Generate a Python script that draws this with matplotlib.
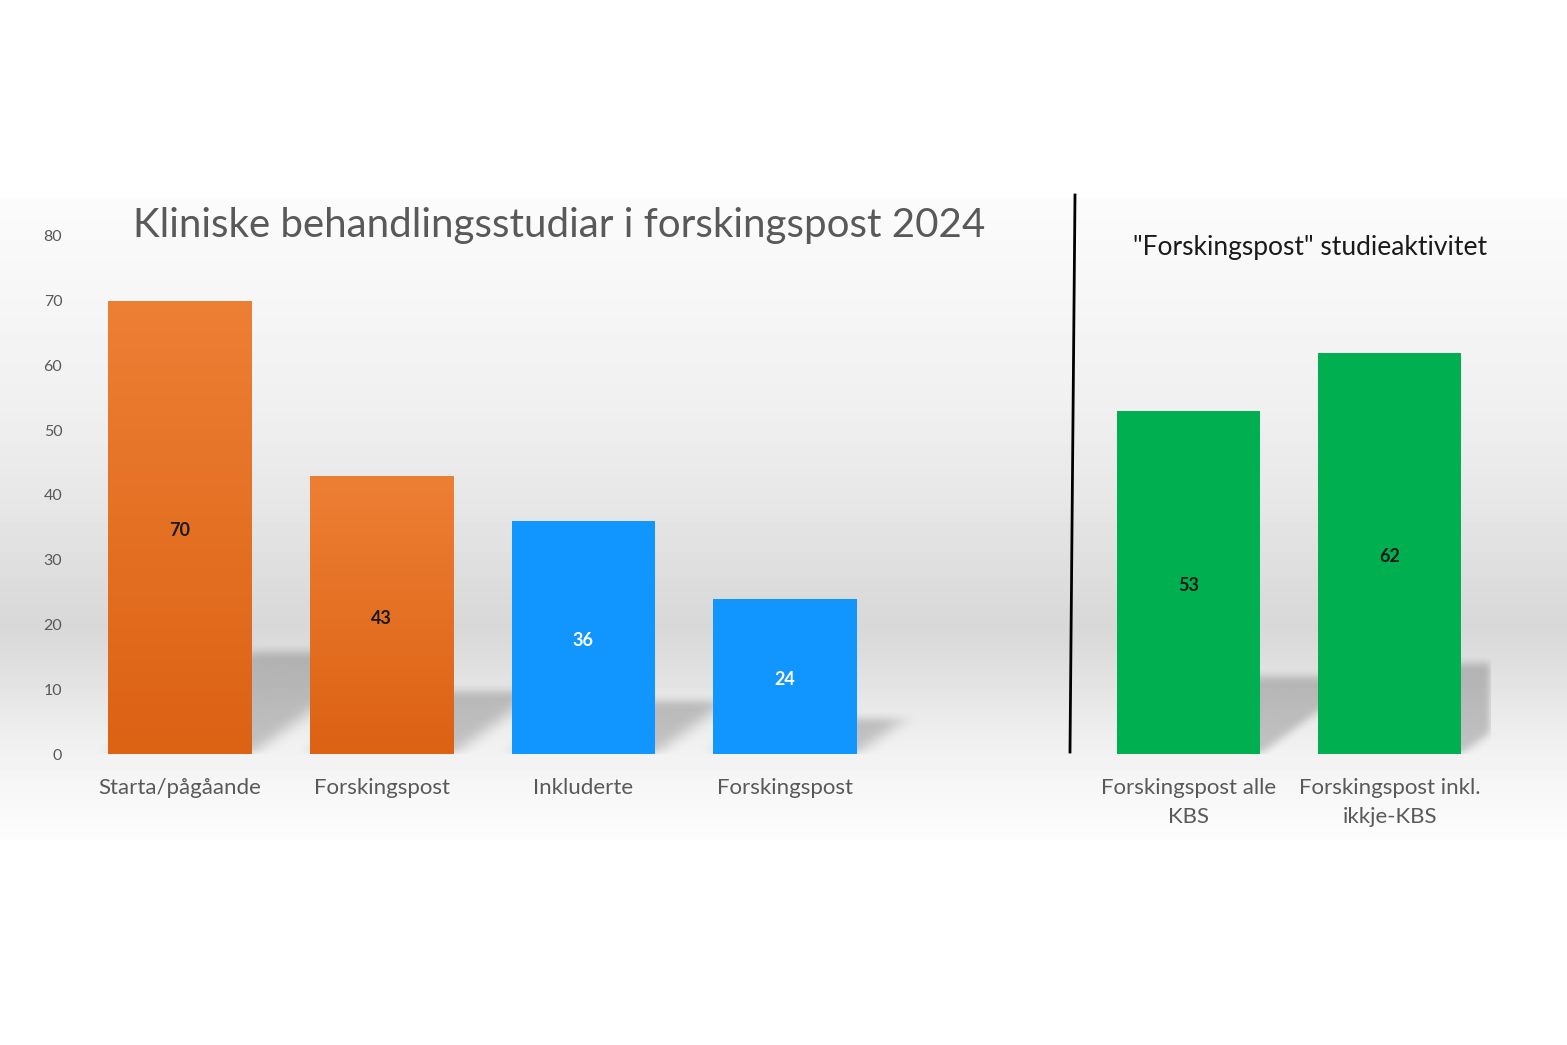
import numpy as np
import matplotlib
matplotlib.use("Agg")
import matplotlib.pyplot as plt
from matplotlib.colors import LinearSegmentedColormap
from matplotlib.lines import Line2D

plt.rcParams["font.family"] = ["Lato", "DejaVu Sans"]

# Data
left_labels = ["Starta/pågåande", "Forskingspost", "Inkluderte", "Forskingspost"]
left_values = [70, 43, 36, 24]
right_labels = ["Forskingspost alle\nKBS", "Forskingspost inkl.\nikkje-KBS"]
right_values = [53, 62]
y_ticks = [0, 10, 20, 30, 40, 50, 60, 70, 80]

left_title = "Kliniske behandlingsstudiar i forskingspost 2024"
right_title = '"Forskingspost" studieaktivitet'

# Styles
W, H = 1567, 1045
gray_text = "#595959"
orange_top = (237 / 255, 127 / 255, 52 / 255)
orange_bot = (220 / 255, 98 / 255, 20 / 255)
blue = "#1196FF"
green = "#00B050"
left_styles = ["orange", "orange", "blue", "blue"]
bar_width = 0.71


def fx(px):
    return px / W


def fy(py):
    return 1 - py / H


def add_shadow(ax, xs, values, xlim):
    """Blurred perspective shadow behind the bars (cast up-right)."""
    nx, ny = 700, 260
    ymax = 22
    gx = np.linspace(xlim[0], xlim[1], nx)
    gy = np.linspace(0, ymax, ny)
    X, Y = np.meshgrid(gx, gy)
    mask = np.zeros_like(X)
    for x, v in zip(xs, values):
        hs = 0.225 * v
        sk = 0.0099 * v
        shift = sk * Y / hs
        inside = (Y <= hs) & (X >= x - bar_width / 2 + shift) & (X <= x + bar_width / 2 + shift)
        mask = np.maximum(mask, inside.astype(float))
    k = np.ones(17) / 17
    for _ in range(2):
        mask = np.apply_along_axis(lambda r: np.convolve(r, k, mode="same"), 1, mask)
        mask = np.apply_along_axis(lambda c: np.convolve(c, k, mode="same"), 0, mask)
    rgba = np.zeros((ny, nx, 4))
    rgba[..., 3] = mask * 0.2
    ax.imshow(rgba, extent=[xlim[0], xlim[1], 0, ymax], origin="lower",
              aspect="auto", zorder=1, interpolation="bilinear")


fig = plt.figure(figsize=(W / 100, H / 100), dpi=100)

# Background gradient band
ax_bg = fig.add_axes([0, 0, 1, 1])
prof_y = [0, 195, 200, 300, 400, 500, 560, 625, 660, 700, 754, 800, 835, 842, H]
prof_v = [255, 255, 251, 246, 240, 231, 223, 216, 222, 231, 242, 248, 252, 255, 255]
rows = np.interp(np.arange(H), prof_y, prof_v) / 255
bg = np.repeat(rows[:, None], 2, axis=1)
ax_bg.imshow(bg, cmap="gray", vmin=0, vmax=1, extent=[0, 1, 0, 1], aspect="auto")
ax_bg.axis("off")

orange_cmap = LinearSegmentedColormap.from_list("orange_grad", [orange_bot, orange_top])
grad = np.linspace(0, 1, 100)[:, None]

y0 = fy(754)
ax_h = fy(236) - y0

# Left chart
lxlim = (-0.5, 4.0)
axL = fig.add_axes([fx(79), y0, fx(180 + 201.7 * 4) - fx(79), ax_h])
xsL = np.arange(len(left_values))
barsL = axL.bar(xsL, left_values, width=bar_width, zorder=2, linewidth=0)
for b, style, v in zip(barsL, left_styles, left_values):
    if style == "orange":
        b.set_facecolor("none")
        im = axL.imshow(grad, cmap=orange_cmap, aspect="auto", origin="lower", zorder=2,
                        extent=[b.get_x(), b.get_x() + b.get_width(), 0, v])
        im.set_clip_path(b)
        tc = "#1a1a1a"
    else:
        b.set_facecolor(blue)
        tc = "white"
    axL.text(b.get_x() + b.get_width() / 2, v / 2 - 0.5, str(v), ha="center", va="center",
             fontsize=13, fontweight="bold", color=tc, zorder=3)
add_shadow(axL, xsL, left_values, lxlim)
axL.set_xlim(*lxlim)
axL.set_ylim(0, 80)
axL.set_yticks(y_ticks)
axL.set_xticks(xsL)
axL.set_xticklabels(left_labels, fontsize=16, color=gray_text)
axL.tick_params(axis="y", length=0, pad=12, labelsize=11.5, labelcolor=gray_text)
axL.tick_params(axis="x", length=0, pad=17)
for s in axL.spines.values():
    s.set_visible(False)
axL.patch.set_visible(False)

# Right chart
rxlim = (-0.5, 1.5)
axR = fig.add_axes([fx(1087.5), y0, fx(403), ax_h])
xsR = np.arange(len(right_values))
barsR = axR.bar(xsR, right_values, width=bar_width, color=green, zorder=2, linewidth=0)
for b, v in zip(barsR, right_values):
    axR.text(b.get_x() + b.get_width() / 2, v / 2 - 0.5, str(v), ha="center", va="center",
             fontsize=13, fontweight="bold", color="#1a1a1a", zorder=3)
add_shadow(axR, xsR, right_values, rxlim)
axR.set_xlim(*rxlim)
axR.set_ylim(0, 80)
axR.set_yticks([])
axR.set_xticks(xsR)
axR.set_xticklabels(right_labels, fontsize=16, color=gray_text, linespacing=1.6)
axR.tick_params(axis="x", length=0, pad=17)
for s in axR.spines.values():
    s.set_visible(False)
axR.patch.set_visible(False)

# Divider line
fig.add_artist(Line2D([fx(1075), fx(1070)], [fy(195), fy(752)], color="black",
                      linewidth=2, transform=fig.transFigure))

# Titles
fig.text(fx(559), fy(226), left_title, ha="center", va="center", fontsize=29, color=gray_text)
fig.text(fx(1310), fy(247), right_title, ha="center", va="center", fontsize=19, color="#1a1a1a")

fig.savefig("out.png", dpi=100)
